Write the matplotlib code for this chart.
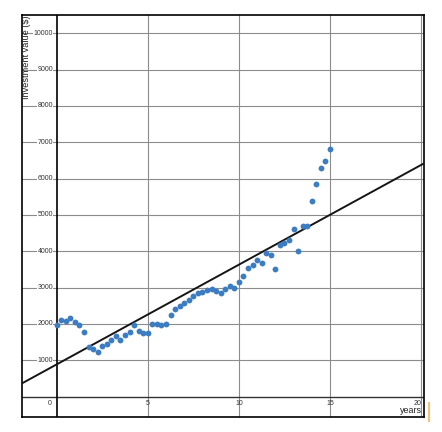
import numpy as np
import matplotlib
matplotlib.use("Agg")
import matplotlib.pyplot as plt
from matplotlib.lines import Line2D

plt.rcParams["font.family"] = ["Liberation Sans", "DejaVu Sans"]

# quarterly investment values
years = np.arange(61) * 0.25
values = [
    1983, 2094, 2074, 2168, 2058, 1964, 1771, 1358, 1295, 1220,
    1405, 1460, 1551, 1680, 1551, 1689, 1782, 1956, 1799, 1755,
    1755, 1997, 2003, 1964, 2003, 2240, 2397, 2488, 2581, 2653,
    2763, 2857, 2884, 2920, 2948, 2901, 2837, 2948, 3039, 2994,
    3149, 3314, 3526, 3617, 3755, 3683, 3939, 3884, 3499, 4160,
    4215, 4306, 4601, 4003, 4691, 4691, 5380, 5840, 6281, 6482,
    6804,
]
x_ticks = [0, 5, 10, 15, 20]
y_ticks = [1000, 2000, 3000, 4000, 5000, 6000, 7000, 8000, 9000, 10000]


def plot_investment(x, y, save_to="out.png"):
    fig = plt.figure(figsize=(4.42, 4.32), dpi=100)
    ax = fig.add_axes([0.050, 0.035, 0.909, 0.930])
    ax.set_xlim(-1.9, 20.15)
    ax.set_ylim(-560, 10500)

    # grid lines
    for xt in x_ticks[1:]:
        ax.axvline(xt, color="#8c8c8c", lw=0.8, zorder=1)
    for yt in y_ticks:
        ax.axhline(yt, color="#8c8c8c", lw=0.8, zorder=1)
    ax.axhline(0, color="#333333", lw=1.0, zorder=2)
    ax.axvline(0, color="black", lw=1.2, zorder=2)

    # least squares line over the full width
    slope, icept = np.polyfit(x, y, 1)
    xs = np.array(ax.get_xlim())
    ax.plot(xs, icept + slope * xs, color="#151515", lw=1.4, zorder=3)

    ax.plot(x, y, "o", color="#3b7dc0", ms=4.2, mec="none", zorder=4)

    # tick labels next to the axis lines
    for yt in y_ticks:
        ax.text(-0.2, yt, str(yt), ha="right", va="center", fontsize=5.0,
                color="#333333", zorder=2.5,
                bbox=dict(facecolor="white", edgecolor="none", pad=0.3))
    for xt in x_ticks:
        ha = "center"
        xpos = xt
        if xt == 0:
            xpos, ha = -0.3, "right"
        elif xt == 20:
            xpos, ha = 20.0, "right"
        ax.text(xpos, -90, str(xt), ha=ha, va="top", fontsize=5.0,
                color="#333333")

    ax.text(0.995, 0.004, "years", transform=ax.transAxes, ha="right",
            va="bottom", fontsize=6.4, color="#222222")
    ax.text(0.011, 0.998, "Investment value ($)", transform=ax.transAxes,
            rotation=90, ha="center", va="top", fontsize=6.6, color="#222222")

    ax.set_xticks([])
    ax.set_yticks([])
    for sp in ax.spines.values():
        sp.set_color("black")
        sp.set_linewidth(1.2)

    # small orange mark right of the frame
    fig.add_artist(Line2D([0.971, 0.971], [0.026, 0.066],
                          transform=fig.transFigure, color="#f4c27a", lw=1.5))

    fig.savefig(save_to, dpi=100)
    return ax


if __name__ == "__main__":
    plot_investment(years, values)
